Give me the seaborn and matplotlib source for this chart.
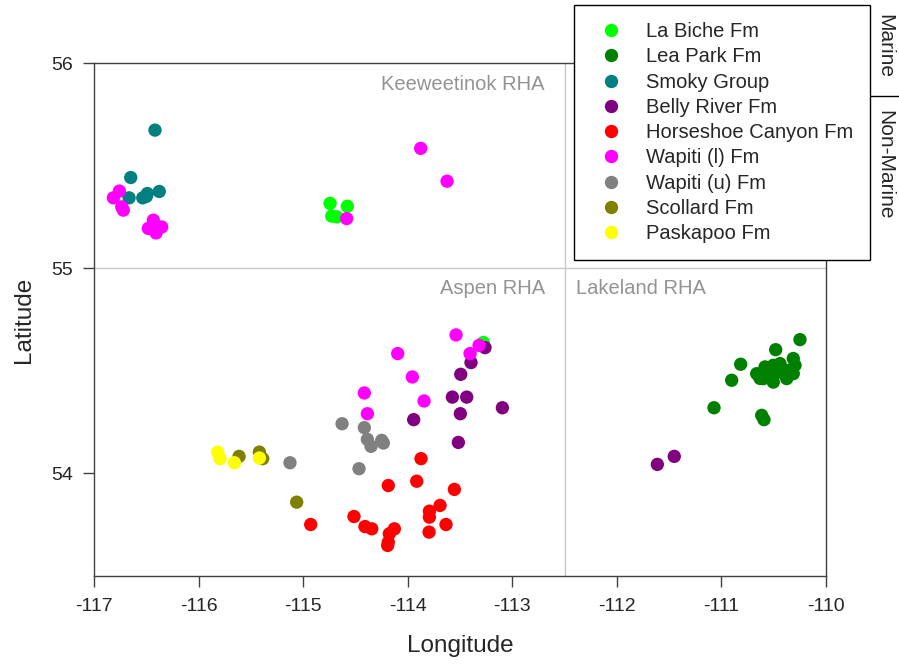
import matplotlib
matplotlib.use("Agg")
import matplotlib.pyplot as plt
from matplotlib.lines import Line2D
import seaborn as sns
import pandas as pd

# Sample locations by formation (longitude, latitude)
formations = ["La Biche Fm", "Lea Park Fm", "Smoky Group", "Belly River Fm",
              "Horseshoe Canyon Fm", "Wapiti (l) Fm", "Wapiti (u) Fm",
              "Scollard Fm", "Paskapoo Fm"]
colors = ["#00FF00", "#008000", "#008080", "#800080", "#FF0000",
          "#FF00FF", "#808080", "#808000", "#FFFF00"]

la_biche_lon = [-114.743, -114.578, -114.727, -114.679, -113.277]
la_biche_lat = [55.316, 55.302, 55.254, 55.250, 54.638]

lea_park_lon = [-110.249, -110.481, -110.816, -110.902, -111.071, -110.615, -110.593,
                -110.663, -110.583, -110.504, -110.440, -110.313, -110.296, -110.313,
                -110.376, -110.504, -110.600, -110.440, -110.536, -110.361, -110.631]
lea_park_lat = [54.652, 54.603, 54.532, 54.454, 54.320, 54.283, 54.262,
                54.486, 54.519, 54.527, 54.535, 54.560, 54.527, 54.486,
                54.462, 54.445, 54.462, 54.494, 54.486, 54.502, 54.463]

smoky_lon = [-116.417, -116.649, -116.665, -116.534, -116.490, -116.376, -116.500]
smoky_lat = [55.673, 55.442, 55.343, 55.343, 55.364, 55.374, 55.350]

belly_river_lon = [-113.261, -113.395, -113.493, -113.573, -113.436, -113.095,
                   -113.497, -113.943, -113.516, -111.613, -111.451]
belly_river_lat = [54.613, 54.540, 54.483, 54.372, 54.372, 54.320,
                   54.291, 54.262, 54.151, 54.044, 54.083]

horseshoe_lon = [-113.873, -113.914, -114.186, -113.554, -113.691, -113.793, -113.793,
                 -113.634, -113.796, -114.928, -114.514, -114.409, -114.344, -114.128,
                 -114.176, -114.186, -114.192]
horseshoe_lat = [54.072, 53.962, 53.941, 53.922, 53.844, 53.816, 53.787,
                 53.751, 53.714, 53.751, 53.790, 53.741, 53.730, 53.730,
                 53.706, 53.665, 53.649]

wapiti_l_lon = [-116.758, -116.815, -116.735, -116.720, -116.433, -116.353, -116.481,
                -116.407, -116.433, -113.876, -113.624, -114.584, -113.538, -113.318,
                -113.404, -114.096, -113.956, -114.415, -113.844, -114.386]
wapiti_l_lat = [55.376, 55.343, 55.299, 55.283, 55.234, 55.201, 55.194,
                55.172, 55.210, 55.584, 55.424, 55.242, 54.675, 54.624,
                54.584, 54.584, 54.470, 54.392, 54.353, 54.291]

wapiti_u_lon = [-114.628, -114.415, -114.386, -114.249, -114.351, -114.233, -115.126, -114.466]
wapiti_u_lat = [54.242, 54.223, 54.166, 54.161, 54.132, 54.148, 54.052, 54.023]

scollard_lon = [-115.613, -115.419, -115.387, -115.062]
scollard_lat = [54.083, 54.104, 54.072, 53.860]

paskapoo_lon = [-115.817, -115.795, -115.658, -115.419]
paskapoo_lat = [54.104, 54.072, 54.052, 54.075]

x_ticks = [-117, -116, -115, -114, -113, -112, -111, -110]
y_ticks = [54, 55, 56]

lons = [la_biche_lon, lea_park_lon, smoky_lon, belly_river_lon, horseshoe_lon,
        wapiti_l_lon, wapiti_u_lon, scollard_lon, paskapoo_lon]
lats = [la_biche_lat, lea_park_lat, smoky_lat, belly_river_lat, horseshoe_lat,
        wapiti_l_lat, wapiti_u_lat, scollard_lat, paskapoo_lat]

rows = []
for name, xs, ys in zip(formations, lons, lats):
    for x, y in zip(xs, ys):
        rows.append({"Longitude": x, "Latitude": y, "Formation": name})
df = pd.DataFrame(rows)

sns.set_style("white")
plt.rcParams["font.family"] = ["Liberation Sans", "DejaVu Sans"]

fig = plt.figure(figsize=(8.99, 6.64), dpi=100)
ax = fig.add_axes([0.1046, 0.1325, 0.8142, 0.7726])

# Health-region boundaries
ax.axhline(55, color="#c8c8c8", lw=1, zorder=0)
ax.axvline(-112.5, color="#c8c8c8", lw=1, zorder=0)

sns.scatterplot(data=df, x="Longitude", y="Latitude", hue="Formation",
                hue_order=formations, palette=colors, s=92, linewidth=0,
                ax=ax, legend=True, zorder=3)

ax.set_xlim(-117, -110)
ax.set_ylim(53.5, 56)
ax.set_xticks(x_ticks)
ax.set_xticklabels([str(t) for t in x_ticks])
ax.set_yticks(y_ticks)
ax.set_yticklabels([str(t) for t in y_ticks])
ax.tick_params(axis="both", direction="out", length=8, width=1, color="#404040",
               labelsize=14, bottom=True, left=True)
ax.tick_params(axis="x", pad=8)
ax.tick_params(axis="y", pad=7)
ax.set_xlabel("Longitude", fontsize=17.5, labelpad=14)
ax.set_ylabel("Latitude", fontsize=17.5, labelpad=12)
for sp in ax.spines.values():
    sp.set_color("#404040")
    sp.set_linewidth(1)
    sp.set_visible(True)

# Region labels
lab_kw = dict(color="#939393", fontsize=14.5, va="center")
ax.text(-112.69, 55.893, "Keeweetinok RHA", ha="right", **lab_kw)
ax.text(-112.69, 54.902, "Aspen RHA", ha="right", **lab_kw)
ax.text(-112.39, 54.902, "Lakeland RHA", ha="left", **lab_kw)

# Legend placed in the upper-right corner of the figure
ax.get_legend().remove()
handles = [Line2D([], [], marker="o", linestyle="", markersize=9.6,
                  markerfacecolor=c, markeredgewidth=0) for c in colors]
leg = fig.legend(handles, formations, loc="upper left",
                 bbox_to_anchor=(0.6385, 0.9925), bbox_transform=fig.transFigure,
                 fontsize=14.5, frameon=True, fancybox=False, framealpha=1,
                 edgecolor="black", borderpad=0.85, handlelength=2.0,
                 handletextpad=0.7, labelspacing=0.31, borderaxespad=0)
leg.get_frame().set_linewidth(1)

# Marine / Non-Marine grouping
fig.add_artist(Line2D([0.6385, 1.0], [0.8554, 0.8554], color="black", lw=1,
                      transform=fig.transFigure))
fig.text(0.9844, 0.9307, "Marine", rotation=270, ha="center", va="center", fontsize=15)
fig.text(0.9844, 0.7515, "Non-Marine", rotation=270, ha="center", va="center", fontsize=15)

fig.savefig("out.png", dpi=100)
